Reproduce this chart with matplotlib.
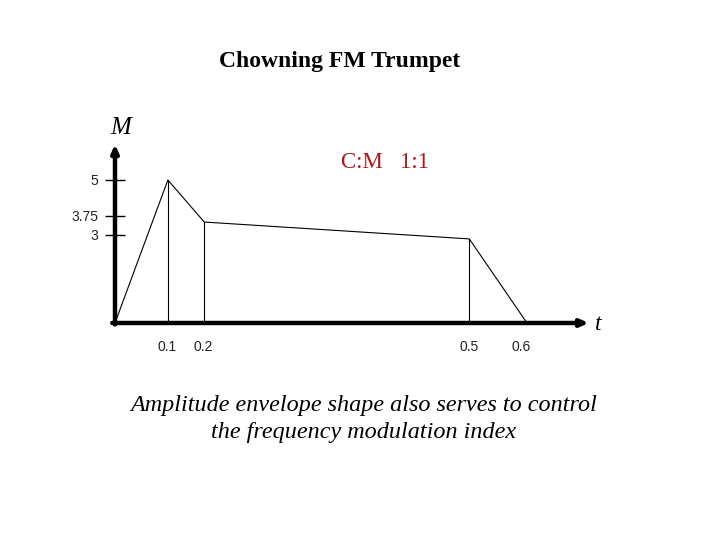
import matplotlib.pyplot as plt

# envelope breakpoints as drawn (time, modulation index)
t_points = [0.0, 0.077, 0.130, 0.516, 0.6]
m_points = [0.0, 5.0, 3.53, 2.94, 0.0]

x_tick_pos = [0.076, 0.128, 0.516, 0.592]
x_tick_labels = ["0.1", "0.2", "0.5", "0.6"]
y_tick_pos = [5, 3.75, 3.08]
y_tick_labels = ["5", "3.75", "3"]

W, H = 720, 540
fig = plt.figure(figsize=(7.2, 5.4), dpi=100)

# axes placed in pixels: t=0 at x=115, t=0.6 at x=527; M=0 at y=323, M=5 at y=180
x0, x1 = 115, 527
y0, y1 = 323, 180
ax = fig.add_axes([x0 / W, 1 - y0 / H, (x1 - x0) / W, (y0 - y1) / H])
ax.set_xlim(0, 0.6)
ax.set_ylim(0, 5)
for s in ax.spines.values():
    s.set_visible(False)

ax.plot(t_points, m_points, color="black", lw=0.8, clip_on=False)
# vertical drop lines under the inner breakpoints
for t, m in zip(t_points[1:4], m_points[1:4]):
    ax.plot([t, t], [0, m], color="black", lw=0.8)

# axes with arrows
ax.annotate("", xy=(0, 6.25), xytext=(0, -0.05), xycoords="data",
            arrowprops=dict(arrowstyle="-|>,head_length=0.45,head_width=0.2",
                            lw=3.2, color="black", shrinkA=0, shrinkB=0),
            annotation_clip=False)
ax.annotate("", xy=(0.69, 0), xytext=(-0.004, 0), xycoords="data",
            arrowprops=dict(arrowstyle="-|>,head_length=0.45,head_width=0.2",
                            lw=3.2, color="black", shrinkA=0, shrinkB=0),
            annotation_clip=False)

ax.set_yticks(y_tick_pos)
ax.set_yticklabels(y_tick_labels, fontfamily="Liberation Sans", fontsize=10, color="#222222")
ax.tick_params(axis="y", direction="inout", length=14, width=1, pad=5)
ax.set_xticks(x_tick_pos)
ax.set_xticklabels(x_tick_labels, fontfamily="Liberation Sans", fontsize=10, color="#222222")
ax.tick_params(axis="x", length=0, pad=12)

fig.text(340 / W, 1 - 62 / H, "Chowning FM Trumpet", ha="center", va="center",
         fontfamily="Liberation Serif", fontweight="bold", fontsize=17)
fig.text(385 / W, 1 - 163 / H, "C:M   1:1", ha="center", va="center",
         fontfamily="Liberation Serif", fontsize=16.5, color="#b01818")
fig.text(121 / W, 1 - 128 / H, "M", ha="center", va="center",
         fontfamily="Liberation Serif", fontstyle="italic", fontsize=18)
fig.text(598 / W, 1 - 325 / H, "t", ha="center", va="center",
         fontfamily="Liberation Serif", fontstyle="italic", fontsize=17)
fig.text(364 / W, 1 - 419 / H,
         "Amplitude envelope shape also serves to control\nthe frequency modulation index",
         ha="center", va="center", fontfamily="Liberation Serif", fontstyle="italic",
         fontsize=17.4, linespacing=1.38)

fig.savefig("out.png", dpi=100)
